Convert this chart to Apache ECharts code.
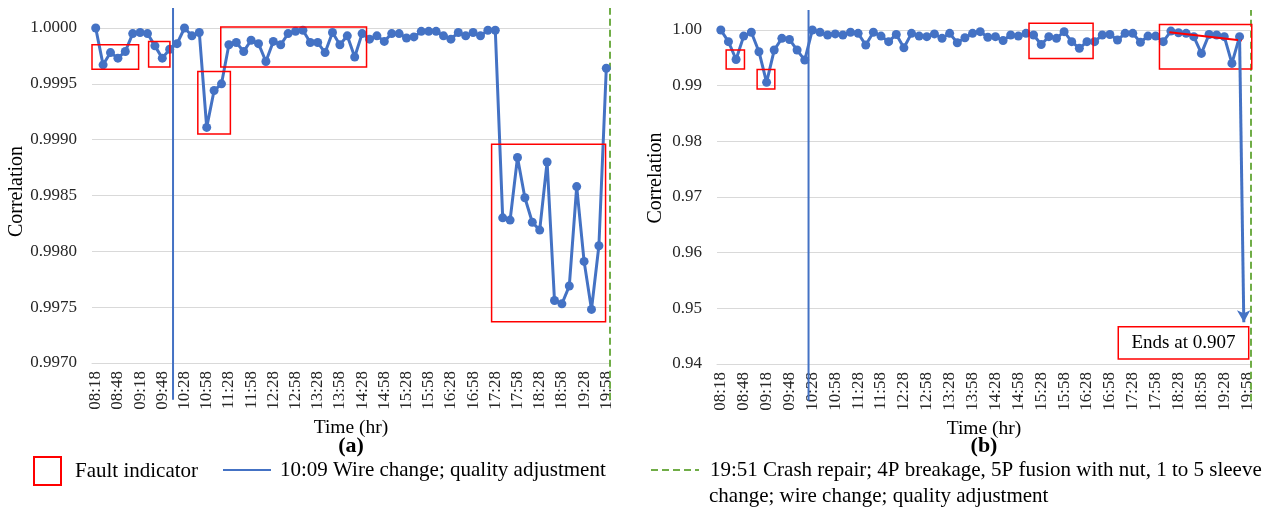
<!DOCTYPE html>
<html>
<head>
<meta charset="utf-8">
<script src="https://cdn.jsdelivr.net/npm/echarts@6/dist/echarts.min.js"></script>
<style>html,body{margin:0;padding:0;background:#fff;}#c{width:1264px;height:508px;}</style>
</head>
<body>
<div id="c"></div>
<script>
// ---------- data ----------
const categories = ['08:18','08:28','08:38','08:48','08:58','09:08','09:18','09:28','09:38','09:48','09:58','10:18',
 '10:28','10:38','10:48','10:58','11:08','11:18','11:28','11:38','11:48','11:58','12:08','12:18','12:28','12:38','12:48','12:58',
 '13:08','13:18','13:28','13:38','13:48','13:58','14:08','14:18','14:28','14:38','14:48','14:58','15:08','15:18','15:28','15:38',
 '15:48','15:58','16:08','16:18','16:28','16:38','16:48','16:58','17:08','17:18','17:28','17:38','17:48','17:58','18:08','18:18',
 '18:28','18:38','18:48','18:58','19:08','19:18','19:28','19:38','19:48','19:58'];

const corrA = [1.0000,0.99967,0.99978,0.99973,0.99979,0.99995,0.99996,0.99995,0.99984,0.99973,
 0.99981,0.99986,1.0000,0.99993,0.99996,0.99911,0.99944,0.99950,0.99985,0.99987,
 0.99979,0.99989,0.99986,0.99970,0.99988,0.99985,0.99995,0.99997,0.99998,0.99987,
 0.99987,0.99978,0.99996,0.99985,0.99993,0.99974,0.99995,0.99990,0.99993,0.99988,
 0.99995,0.99995,0.99991,0.99992,0.99997,0.99997,0.99997,0.99993,0.99990,0.99996,
 0.99993,0.99996,0.99993,0.99998,0.99998,0.99830,0.99828,0.99884,0.99848,0.99826,
 0.99819,0.99880,0.99756,0.99753,0.99769,0.99858,0.99791,0.99748,0.99805,0.99964];

const corrB = [1.0000,0.9979,0.9947,0.9989,0.9996,0.9961,0.9906,0.9964,0.9985,0.9983,
 0.9964,0.9946,1.0000,0.9996,0.9991,0.9993,0.9991,0.9996,0.9994,0.9973,
 0.9996,0.9989,0.9979,0.9992,0.9968,0.9994,0.9989,0.9988,0.9993,0.9985,
 0.9994,0.9977,0.9986,0.9994,0.9997,0.9987,0.9988,0.9981,0.9991,0.9989,
 0.9994,0.9991,0.9974,0.9988,0.9985,0.9997,0.9979,0.9967,0.9979,0.9979,
 0.9991,0.9992,0.9982,0.9994,0.9994,0.9978,0.9989,0.9989,0.9979,0.9998,
 0.9995,0.9994,0.9988,0.9958,0.9992,0.9991,0.9988,0.9940,0.9988,0.907];

// fault indicator boxes: [fromIndex, toIndex, lowValue, highValue]
const faultBoxesA = [[-0.5,5.8,0.99963,0.99985],[7.15,10.03,0.99965,0.99988],[13.8,18.2,0.99905,0.99961],
 [16.9,36.6,0.99965,1.00001],[53.5,68.9,0.99737,0.99896]];
const faultBoxesB = [[0.7,3.1,0.9930,0.9964],[4.76,7.08,0.9894,0.9929],[40.4,48.8,0.9949,1.0012],[57.5,69.6,0.9930,1.0010]];
const trendB = [[58.8,0.9996],[68.3,0.9981]];
const noteB = [[52.1,69.2,0.9409,0.9467]];
const noteText = 'Ends at 0.907';
const arrowEndB = 0.9475;

const wireName = '10:09 Wire change; quality adjustment';
const crashLine1 = '19:51 Crash repair; 4P breakage, 5P fusion with nut, 1 to 5 sleeve';
const crashLine2 = 'change; wire change; quality adjustment';
const wirePos = [10.45, 11.5];
const crashPos = [69.5, 69.5];

// ---------- chart ----------
const FONT = "'Liberation Serif', 'Times New Roman', serif";
const BLUE = '#4472C4', GREEN = '#70AD47', RED = '#FF0000', GRID = '#d9d9d9', TXT = '#262626';
const chart = echarts.init(document.getElementById('c'), null, {renderer: 'canvas'});

function catAxis(gi) {
  return {type: 'category', gridIndex: gi, data: categories, boundaryGap: true,
    axisLine: {lineStyle: {color: GRID}}, axisTick: {show: false},
    axisLabel: {interval: 2, rotate: 90, fontSize: 17, fontFamily: FONT, color: TXT, margin: 8},
    name: 'Time (hr)', nameLocation: 'middle', nameGap: 52,
    nameTextStyle: {fontSize: 19.5, fontFamily: FONT, color: '#000'}};
}
function hidX(gi) { return {type: 'value', gridIndex: gi, min: -0.5, max: 69.5, show: false}; }
function hidY(gi) { return {type: 'value', gridIndex: gi, min: 0, max: 1, show: false}; }
function valAxis(gi, min, max, interval, dec, gap, shift) {
  return {type: 'value', gridIndex: gi, min: min, max: max, interval: interval,
    axisLine: {show: false}, axisTick: {show: false},
    splitLine: {lineStyle: {color: GRID, width: 1}},
    axisLabel: {formatter: v => v.toFixed(dec), fontSize: 17, fontFamily: FONT, color: TXT, margin: 15},
    name: 'Correlation', nameLocation: 'middle', nameGap: gap,
    nameTextStyle: {fontSize: 20, fontFamily: FONT, color: '#000', padding: [0, 0, 0, shift]}};
}
function boxRender(params, api) {
  const p0 = api.coord([api.value(0), api.value(3)]);
  const p1 = api.coord([api.value(1), api.value(2)]);
  return {type: 'rect', shape: {x: p0[0], y: p0[1], width: p1[0] - p0[0], height: p1[1] - p0[1]},
    style: {fill: 'none', stroke: RED, lineWidth: 1.5}};
}
function noteRender(params, api) {
  const p0 = api.coord([api.value(0), api.value(3)]);
  const p1 = api.coord([api.value(1), api.value(2)]);
  return {type: 'group', children: [
    {type: 'rect', shape: {x: p0[0], y: p0[1], width: p1[0] - p0[0], height: p1[1] - p0[1]},
      style: {fill: '#fff', stroke: RED, lineWidth: 1.5}},
    {type: 'text', x: (p0[0] + p1[0]) / 2, y: (p0[1] + p1[1]) / 2,
      style: {text: noteText, fill: '#000', font: '19px ' + FONT, align: 'center', verticalAlign: 'middle'}}
  ]};
}
function vline(name, xi, yi, pos, color, type) {
  return {name: name, type: 'line', xAxisIndex: xi, yAxisIndex: yi, data: [[pos, -0.11], [pos, 1.06]],
    symbol: 'none', clip: false, z: 1, silent: true,
    lineStyle: {color: color, width: 2, type: type}, itemStyle: {color: 'rgba(0,0,0,0)', borderWidth: 0}};
}
const dataSeries = (name, xi, yi, data) => ({name: name, type: 'line', xAxisIndex: xi, yAxisIndex: yi, data: data,
  symbol: 'circle', symbolSize: 9, showAllSymbol: true, z: 3,
  lineStyle: {color: BLUE, width: 3}, itemStyle: {color: BLUE}});

// arrow end for the final off-scale point of (b)
const lastB = corrB.length - 1;
const arrowX = (lastB - 1) + (corrB[lastB - 1] - arrowEndB) / (corrB[lastB - 1] - corrB[lastB]);

const legendText = {fontSize: 21, lineHeight: 24, fontFamily: FONT, color: '#000'};
const hiddenSym = {color: 'rgba(0,0,0,0)', borderColor: 'rgba(0,0,0,0)', borderWidth: 0, opacity: 0};

const option = {
  animation: false,
  backgroundColor: '#fff',
  grid: [
    {left: 92, top: 28, width: 518, height: 335},
    {left: 717, top: 30, width: 534, height: 334}
  ],
  xAxis: [catAxis(0), catAxis(1), hidX(0), hidX(1)],
  yAxis: [valAxis(0, 0.997, 1.0, 0.0005, 4, 64, 8), valAxis(1, 0.94, 1.0, 0.01, 2, 51, 38), hidY(0), hidY(1)],
  title: [
    {text: '(a)', left: 351, top: 435, textAlign: 'center', padding: 0,
      textStyle: {fontSize: 22, fontWeight: 'bold', fontFamily: FONT, color: '#000'}},
    {text: '(b)', left: 984, top: 435, textAlign: 'center', padding: 0,
      textStyle: {fontSize: 22, fontWeight: 'bold', fontFamily: FONT, color: '#000'}},
    {text: crashLine2, left: 709, top: 484, padding: 0,
      textStyle: Object.assign({}, legendText, {fontWeight: 'normal'})}
  ],
  legend: [
    {data: [{name: 'Fault indicator', icon: 'rect',
        itemStyle: {color: 'rgba(0,0,0,0)', borderColor: RED, borderWidth: 2}}],
      left: 33, top: 456, padding: 0, itemWidth: 27, itemHeight: 28, selectedMode: false,
      textStyle: Object.assign({}, legendText, {padding: [0, 0, 0, 9]})},
    {data: [{name: wireName, itemStyle: hiddenSym}], left: 222, top: 458, padding: 0, itemWidth: 48, itemHeight: 14,
      selectedMode: false, textStyle: Object.assign({}, legendText, {padding: [0, 0, 0, 4]})},
    {data: [{name: crashLine1, itemStyle: hiddenSym}], left: 650, top: 458, padding: 0, itemWidth: 48, itemHeight: 14,
      selectedMode: false, textStyle: Object.assign({}, legendText, {padding: [0, 0, 0, 6]})}
  ],
  series: [
    vline(wireName, 2, 2, wirePos[0], BLUE, 'solid'),
    vline(wireName, 3, 3, wirePos[1], BLUE, 'solid'),
    vline(crashLine1, 2, 2, crashPos[0], GREEN, [7, 4]),
    vline(crashLine1, 3, 3, crashPos[1], GREEN, [7, 4]),
    dataSeries('Correlation (a)', 0, 0, corrA),
    dataSeries('Correlation (b)', 1, 1, corrB.slice(0, lastB)),
    {name: 'arrow', type: 'line', xAxisIndex: 3, yAxisIndex: 1, data: [], symbol: 'none',
      markLine: {silent: true, symbol: ['none', 'arrow'], symbolSize: [10, 12], label: {show: false},
        lineStyle: {color: BLUE, width: 3, type: 'solid'},
        data: [[{coord: [lastB - 1, corrB[lastB - 1]]}, {coord: [arrowX, arrowEndB]}]]}},
    {name: 'Fault indicator', type: 'custom', xAxisIndex: 2, yAxisIndex: 0, data: faultBoxesA,
      encode: {x: [0, 1], y: [2, 3]}, renderItem: boxRender, z: 4, silent: true},
    {name: 'Fault indicator', type: 'custom', xAxisIndex: 3, yAxisIndex: 1, data: faultBoxesB,
      encode: {x: [0, 1], y: [2, 3]}, renderItem: boxRender, z: 4, silent: true},
    {name: 'trend', type: 'line', xAxisIndex: 3, yAxisIndex: 1, data: trendB, symbol: 'none', z: 4,
      lineStyle: {color: RED, width: 2}},
    {name: 'note', type: 'custom', xAxisIndex: 3, yAxisIndex: 1, data: noteB,
      encode: {x: [0, 1], y: [2, 3]}, renderItem: noteRender, z: 5, silent: true}
  ]
};
chart.setOption(option);
</script>
</body>
</html>
